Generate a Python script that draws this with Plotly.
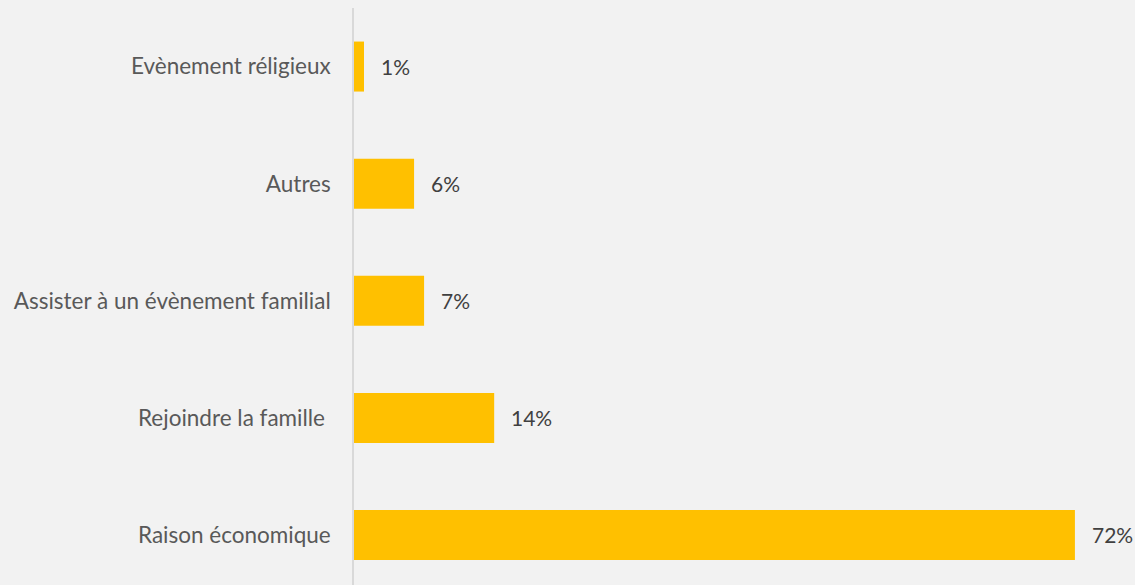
import plotly.graph_objects as go

categories = ["Raison économique", "Rejoindre la famille\u00a0", "Assister à un évènement familial", "Autres", "Evènement réligieux"]
values = [72, 14, 7, 6, 1]
labels = ["72%", "14%", "7%", "6%", "1%"]

fig = go.Figure()
fig.add_trace(go.Bar(
    y=categories, x=values, orientation="h",
    marker=dict(color="#FFC000", line=dict(width=0)),
    hoverinfo="skip",
))
for c, v, t in zip(categories, values, labels):
    fig.add_annotation(x=v, y=c, text=t, xanchor="left", yanchor="middle",
                       xshift=15, showarrow=False,
                       font=dict(family="Lato", size=21, color="#404040"))

fig.update_layout(
    width=1135, height=585,
    paper_bgcolor="#F2F2F2", plot_bgcolor="#F2F2F2",
    margin=dict(l=354, r=0, t=8, b=0),
    bargap=0.573,
    showlegend=False,
    xaxis=dict(range=[0, 78], visible=False, fixedrange=True),
    yaxis=dict(range=[-0.427, 4.5], showline=True, linecolor="#D9D9D9", linewidth=1.5,
               showgrid=False, zeroline=False, ticks="outside", ticklen=17,
               tickcolor="rgba(0,0,0,0)",
               tickfont=dict(family="Lato", size=22.5, color="#595959")),
)
fig.write_html("out.html", config={"displayModeBar": False},
               post_script="document.body.style.margin='0';")
